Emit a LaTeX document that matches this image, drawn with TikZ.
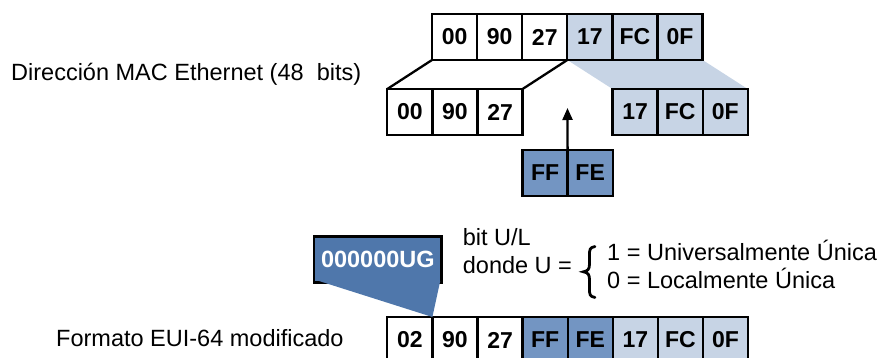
\documentclass[tikz,border=0pt]{standalone}
\usepackage{fontspec}
\setmainfont{Liberation Sans}
\usetikzlibrary{arrows.meta}
\definecolor{lb}{RGB}{199,212,229}
\definecolor{mb}{RGB}{115,149,194}
\definecolor{db}{RGB}{79,119,171}
\begin{document}
\begin{tikzpicture}[x=1pt,y=-1pt,
  cell/.style={draw=black, line width=2.3pt, minimum width=45.1pt, minimum height=46pt,
    inner sep=0pt, outer sep=0pt, anchor=north west,
    font=\fontsize{23}{27}\selectfont\bfseries},
  wcell/.style={cell, fill=white},
  lcell/.style={cell, fill=lb},
  mcell/.style={cell, fill=mb},
  lbl/.style={anchor=base west, inner sep=0pt, font=\fontsize{23.5}{28}\selectfont},
  conn/.style={draw=black, line width=2.3pt}
]
\useasboundingbox (0,0) rectangle (883,358);

% top row
\node[wcell] (t1) at (432,14) {00};
\node[wcell] (t2) at (t1.north east) {90};
\node[wcell] (t3) at (t2.north east) {27};
\node[lcell] (t4) at (t3.north east) {17};
\node[lcell] (t5) at (t4.north east) {FC};
\node[lcell] (t6) at (t5.north east) {0F};

% middle row
\node[wcell] (m1) at (387.3,89) {00};
\node[wcell] (m2) at (m1.north east) {90};
\node[wcell] (m3) at (m2.north east) {27};
\node[lcell] (r1) at (612.5,89) {17};
\node[lcell] (r2) at (r1.north east) {FC};
\node[lcell] (r3) at (r2.north east) {0F};

% shaded band and split lines
\fill[lb] (t4.south west) -- (t6.south east) -- (r3.north east) -- (r1.north west) -- cycle;
\draw[conn] (t1.south west) -- (m1.north west);
\draw[conn] (t4.south west) -- (m3.north east);
% redraw the shaded cells over the band edges
\node[lcell] at (t4.north west) {17};
\node[lcell] at (t5.north west) {FC};
\node[lcell] at (t6.north west) {0F};
\node[lcell] at (r1.north west) {17};
\node[lcell] at (r2.north west) {FC};
\node[lcell] at (r3.north west) {0F};

% FF FE
\node[mcell] (f1) at (522.5,150) {FF};
\node[mcell] (f2) at (f1.north east) {FE};
\coordinate (tip) at (567.5,108);
\draw[line width=2.3pt, -{Triangle[length=12pt,width=10pt]}] (f1.north east) -- (tip);

% bottom row
\node[wcell] (b1) at (387.3,317) {02};
\node[wcell] (b2) at (b1.north east) {90};
\node[wcell] (b3) at (b2.north east) {27};
\node[mcell] (b4) at (b3.north east) {FF};
\node[mcell] (b5) at (b4.north east) {FE};
\node[lcell] (b6) at (b5.north east) {17};
\node[lcell] (b7) at (b6.north east) {FC};
\node[lcell] (b8) at (b7.north east) {0F};

% U/G callout
\node[draw=black, line width=2.6pt, fill=db, text=white, minimum width=127.7pt,
  minimum height=45.6pt, inner sep=0pt, outer sep=0pt, anchor=north west,
  font=\fontsize{23.5}{28}\selectfont\bfseries] (ug) at (314,236.7) {000000UG};
\fill[db] ([xshift=5pt,yshift=1.3pt]ug.south west) -- ([xshift=-1.5pt,yshift=1.3pt]ug.south east) -- (b1.north east) -- cycle;

% labels
\node[lbl] (lmac) at (11,81) {Dirección MAC Ethernet (48\ \ bits)};
\node[lbl] (leui) at (56,346.7) {Formato EUI-64 modificado};
\node[lbl] (lbit) at (462.7,245.7) {bit U/L};
\node[lbl] (ldon) at (462.7,273.3) {donde U =};
\node[lbl] (lone) at (607,260) {1 = Universalmente Única};
\node[lbl] (lzer) at (607,288.3) {0 = Localmente Única};

% brace
\draw[line width=2.8pt, line cap=round]
  (595,246.5) .. controls (589.5,247.5) and (589.5,250) .. (589.5,255)
  -- (589.5,264) .. controls (589.5,269) and (588,271) .. (583.5,271.8)
  .. controls (588,272.6) and (589.5,274.6) .. (589.5,279.6)
  -- (589.5,289) .. controls (589.5,294) and (589.5,296.5) .. (595,297.5);
\end{tikzpicture}
\end{document}
